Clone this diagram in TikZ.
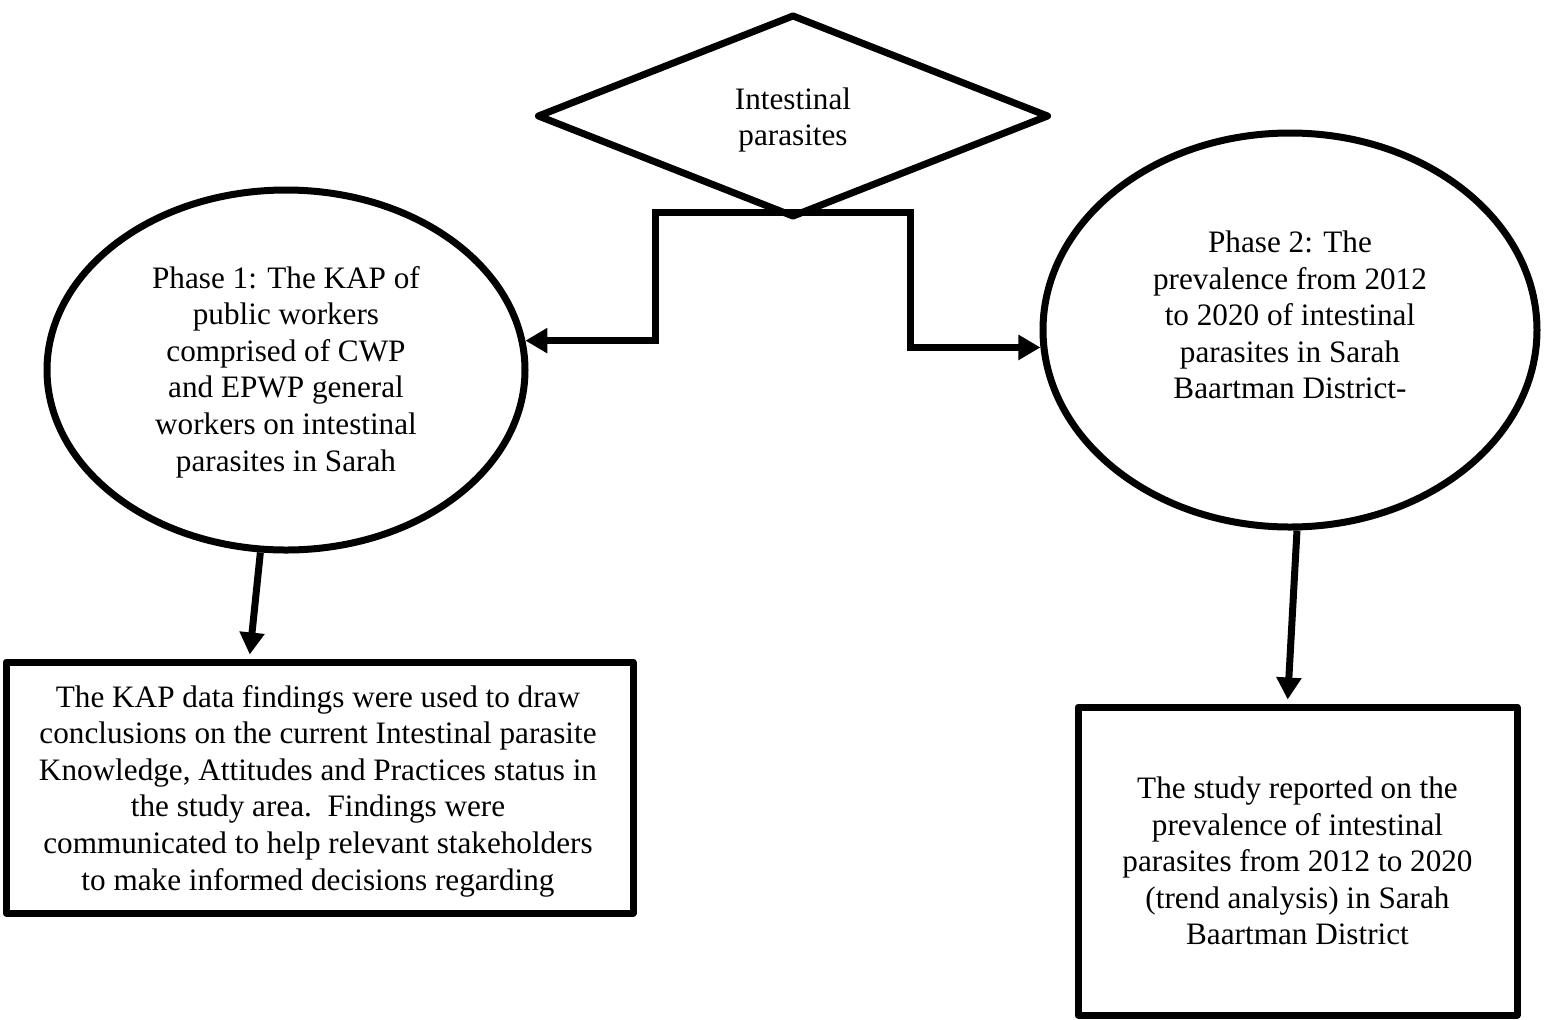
\documentclass[tikz,border=0pt]{standalone}
\usepackage{fontspec}
\setmainfont{Liberation Serif}
\usetikzlibrary{shapes.geometric,arrows.meta,calc}
\begin{document}
\begin{tikzpicture}[x=0.5pt,y=-0.5pt,
  every node/.style={font=\fontsize{15.6pt}{18.3pt}\selectfont, align=center, inner sep=0pt},
  shapeline/.style={draw=black, line width=3.5pt, line join=round},
  conn/.style={draw=black, line width=3.5pt, line join=miter, -{Triangle[length=11pt,width=12pt]}},
  ]
\useasboundingbox (0,0) rectangle (1554,1019);
% nodes
\node[shapeline, diamond, minimum width=256pt, minimum height=101.5pt] (dia) at (793,116) {};
\node (diat) at (793,120) {Intestinal\\parasites};
\node[shapeline, ellipse, minimum width=239pt, minimum height=180pt] (e1) at (286,370) {};
\node (e1t) at (286,372) {Phase 1: The KAP of\\public workers\\comprised of CWP\\and EPWP general\\workers on intestinal\\parasites in Sarah};
\node[shapeline, ellipse, minimum width=247pt, minimum height=197pt] (e2) at (1290,330) {};
\node (e2t) at (1290,315) {Phase 2: The\\prevalence from 2012\\to 2020 of intestinal\\parasites in Sarah\\Baartman District-};
\node[shapeline, rectangle, minimum width=313.5pt, minimum height=125.5pt] (b1) at (319.5,787.5) {};
\node (b1t) at (318,791) {The KAP data findings were used to draw\\conclusions on the current Intestinal parasite\\Knowledge, Attitudes and Practices status in\\the study area.\ \ Findings were\\communicated to help relevant stakeholders\\to make informed decisions regarding};
\node[shapeline, rectangle, minimum width=219.5pt, minimum height=154pt] (b2) at (1297.5,861)
  {The study reported on the\\prevalence of intestinal\\parasites from 2012 to 2020\\(trend analysis) in Sarah\\Baartman District};
% junction coordinates
\coordinate (jl) at (655,212);
\coordinate (jr) at (910,212);
% connectors
\draw[conn] (dia.south |- jl) -- (jl) |- (e1.7);
\draw[conn] (dia.south |- jl) -- (jr) |- (e2.184);
\draw[conn] (e1.262) -- ([yshift=2pt]$(b1.north west)!0.39!(b1.north east)$);
\draw[conn] (e2.272) -- ([yshift=2pt]$(b2.north west)!0.478!(b2.north east)$);
\end{tikzpicture}
\end{document}
